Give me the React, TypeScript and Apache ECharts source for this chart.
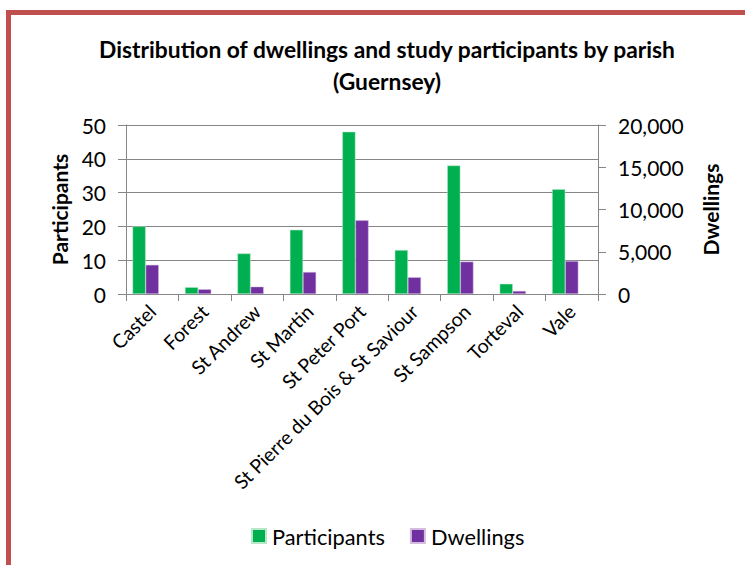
import React, { useEffect, useRef } from "react";
import * as echarts from "echarts";

const parishes = [
  "Castel",
  "Forest",
  "St Andrew",
  "St Martin",
  "St Peter Port",
  "St Pierre du Bois & St Saviour",
  "St Sampson",
  "Torteval",
  "Vale",
];
const participants = [20, 2, 12, 19, 48, 13, 38, 3, 31];
const dwellings = [3450, 560, 870, 2600, 8720, 1980, 3830, 360, 3900];
// Empty slot after each pair, so the two bars sit left of the category centre
const spacer = parishes.map(() => null);

const FONT = "Lato, 'Open Sans', sans-serif";
const GRID_COLOR = "#868686";

export default function App() {
  const ref = useRef<HTMLDivElement>(null);

  useEffect(() => {
    if (!ref.current) return;
    const chart = echarts.init(ref.current, null, { renderer: "svg" });
    chart.setOption({
      animation: false,
      backgroundColor: "#ffffff",
      textStyle: { fontFamily: FONT, color: "#000" },
      title: {
        text: "Distribution of dwellings and study participants by parish\n(Guernsey)",
        left: 382,
        textAlign: "center",
        top: 28,
        textStyle: {
          fontFamily: FONT,
          fontWeight: "bold",
          fontSize: 22.8,
          lineHeight: 32,
          color: "#000",
        },
      },
      legend: {
        data: ["Participants", "Dwellings"],
        left: 246,
        top: 520,
        icon: "rect",
        itemWidth: 14,
        itemHeight: 14,
        itemGap: 25,
        textStyle: { fontFamily: FONT, fontSize: 21.8, color: "#000", padding: [0, 0, 0, 1] },
      },
      grid: { left: 126, right: 147, top: 125, bottom: 271 },
      xAxis: {
        type: "category",
        data: parishes,
        axisLine: { lineStyle: { color: GRID_COLOR, width: 1 } },
        axisTick: { show: true, length: 7, lineStyle: { color: GRID_COLOR } },
        axisLabel: {
          rotate: 45,
          interval: 0,
          margin: 14,
          fontFamily: FONT,
          fontSize: 19.5,
          color: "#000",
        },
      },
      yAxis: [
        {
          type: "value",
          min: 0,
          max: 50,
          interval: 10,
          name: "Participants",
          nameLocation: "middle",
          nameRotate: 90,
          nameGap: 56,
          nameTextStyle: { fontFamily: FONT, fontWeight: "bold", fontSize: 21, color: "#000" },
          axisLine: { show: true, lineStyle: { color: GRID_COLOR } },
          axisTick: { show: true, length: 8, lineStyle: { color: GRID_COLOR } },
          axisLabel: { margin: 20, fontFamily: FONT, fontSize: 21, color: "#000" },
          splitLine: { show: true, lineStyle: { color: GRID_COLOR, width: 1 } },
        },
        {
          type: "value",
          min: 0,
          max: 20000,
          interval: 5000,
          name: "Dwellings",
          nameLocation: "middle",
          nameRotate: 90,
          nameGap: 102,
          nameTextStyle: { fontFamily: FONT, fontWeight: "bold", fontSize: 21, color: "#000" },
          axisLine: { show: true, lineStyle: { color: GRID_COLOR } },
          axisTick: { show: true, length: 8, lineStyle: { color: GRID_COLOR } },
          axisLabel: {
            margin: 20,
            fontFamily: FONT,
            fontSize: 21,
            color: "#000",
            formatter: (v: number) => v.toLocaleString("en-US"),
          },
          splitLine: { show: false },
        },
      ],
      series: [
        {
          name: "Participants",
          type: "bar",
          yAxisIndex: 0,
          data: participants,
          barGap: "0%",
          barCategoryGap: "25%",
          itemStyle: { color: "#00B050", borderColor: "#B8E6C8", borderWidth: 0.5 },
        },
        {
          name: "Dwellings",
          type: "bar",
          yAxisIndex: 1,
          data: dwellings,
          barGap: "0%",
          barCategoryGap: "25%",
          itemStyle: { color: "#7030A0", borderColor: "#D2BCE0", borderWidth: 0.5 },
        },
        {
          name: "spacer",
          type: "bar",
          yAxisIndex: 0,
          data: spacer,
          barGap: "0%",
          barCategoryGap: "25%",
          silent: true,
          itemStyle: { color: "transparent" },
        },
      ],
      graphic: [
        {
          type: "polyline",
          silent: true,
          shape: { points: [[8.5, 600], [8.5, 12.5], [800, 12.5]] },
          style: { stroke: "#C0504D", lineWidth: 5, fill: "none" },
        },
      ],
    });
    return () => chart.dispose();
  }, []);

  return (
    <div
      ref={ref}
      style={{ position: "fixed", left: 0, top: 0, width: 745, height: 565 }}
    />
  );
}
